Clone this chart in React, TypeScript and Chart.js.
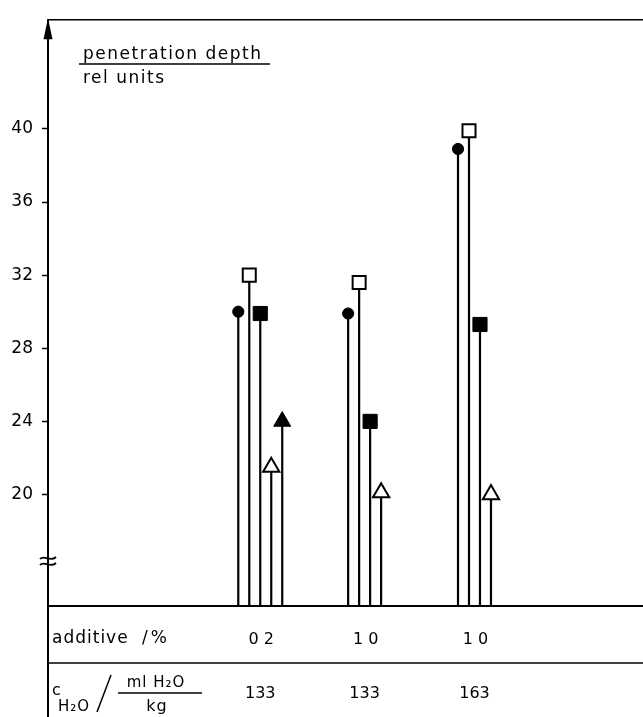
import React, { useEffect, useRef } from "react";
import { Chart, registerables } from "chart.js";

Chart.register(...registerables);

// ---- data ----
const GROUPS = ["A", "B", "C"];
const ADDITIVE_LABELS = ["0 2", "1 0", "1 0"];
const WATER_LABELS = ["133", "133", "163"];
const Y_TICKS = [20, 24, 28, 32, 36, 40];

const FILLED_CIRCLE = [30.0, 29.9, 38.9];
const OPEN_SQUARE = [32.0, 31.6, 39.9];
const FILLED_SQUARE = [29.9, 24.0, 29.3];
const OPEN_TRIANGLE = [21.5, 20.1, 20.0];
const FILLED_TRIANGLE = [24.0, null, null];

// ---- layout constants ----
const W = 643;
const H = 717;
const SERIES_STEP = 0.1;
const X_MIN = -1.732;
const X_MAX = 3.58;
const Y_MIN = 13.9;
const Y_MAX = 46;
const FONT = "'DejaVu Sans', sans-serif";

type SeriesDef = {
  label: string;
  values: (number | null)[];
  style: string;
  filled: boolean;
  radius: number;
};

const SERIES: SeriesDef[] = [
  { label: "filled circle", values: FILLED_CIRCLE, style: "circle", filled: true, radius: 5.6 },
  { label: "open square", values: OPEN_SQUARE, style: "rect", filled: false, radius: 9.2 },
  { label: "filled square", values: FILLED_SQUARE, style: "rect", filled: true, radius: 10 },
  { label: "open triangle", values: OPEN_TRIANGLE, style: "triangle", filled: false, radius: 9.4 },
  { label: "filled triangle", values: FILLED_TRIANGLE, style: "triangle", filled: true, radius: 9.8 },
];

const stemPlugin = {
  id: "stems",
  beforeDatasetsDraw(chart: any) {
    const ctx = chart.ctx;
    const bottom = chart.chartArea.bottom;
    ctx.save();
    ctx.strokeStyle = "#000";
    ctx.lineWidth = 2.2;
    chart.data.datasets.forEach((_: any, i: number) => {
      const meta = chart.getDatasetMeta(i);
      meta.data.forEach((el: any) => {
        ctx.beginPath();
        ctx.moveTo(el.x, el.y);
        ctx.lineTo(el.x, bottom);
        ctx.stroke();
      });
    });
    ctx.restore();
  },
};

const decorPlugin = {
  id: "decor",
  afterDraw(chart: any) {
    const ctx = chart.ctx;
    const { left, top, bottom } = chart.chartArea;
    const xs = chart.scales.x;
    const ax = left;
    ctx.save();
    ctx.strokeStyle = "#000";
    ctx.fillStyle = "#000";

    // vertical axis through the table
    ctx.lineWidth = 2;
    ctx.beginPath();
    ctx.moveTo(ax, top);
    ctx.lineTo(ax, H);
    ctx.stroke();

    // top frame line
    ctx.lineWidth = 1.5;
    ctx.beginPath();
    ctx.moveTo(ax, top + 0.5);
    ctx.lineTo(W, top + 0.5);
    ctx.stroke();

    // arrow head
    ctx.beginPath();
    ctx.moveTo(ax, top - 1);
    ctx.lineTo(ax - 4.5, top + 20);
    ctx.lineTo(ax + 4.5, top + 20);
    ctx.closePath();
    ctx.fill();

    // baseline / table top
    ctx.lineWidth = 2;
    ctx.beginPath();
    ctx.moveTo(ax, bottom);
    ctx.lineTo(W, bottom);
    ctx.stroke();

    // table row separator
    const rowLine = bottom + 57;
    ctx.lineWidth = 1.5;
    ctx.beginPath();
    ctx.moveTo(ax, rowLine);
    ctx.lineTo(W, rowLine);
    ctx.stroke();

    // axis break
    const by = bottom - 45;
    ctx.lineWidth = 1.8;
    [-3, 3].forEach((d) => {
      const y = by + d;
      ctx.beginPath();
      ctx.moveTo(ax - 8, y + 1);
      ctx.bezierCurveTo(ax - 4, y - 4, ax + 2, y + 5, ax + 8, y - 1);
      ctx.stroke();
    });

    // title
    ctx.font = `17px ${FONT}`;
    (ctx as any).letterSpacing = "1.5px";
    ctx.textAlign = "left";
    ctx.textBaseline = "alphabetic";
    ctx.fillText("penetration depth", 83, 59);
    ctx.lineWidth = 1.5;
    ctx.beginPath();
    ctx.moveTo(79, 64);
    ctx.lineTo(270, 64);
    ctx.stroke();
    ctx.fillText("rel units", 83, 83);

    // table row labels
    (ctx as any).letterSpacing = "1px";
    ctx.fillText("additive", 52, 643);
    (ctx as any).letterSpacing = "3px";
    ctx.fillText("/%", 142, 643);
    (ctx as any).letterSpacing = "1px";

    ctx.font = `16px ${FONT}`;
    ctx.fillText("c", 52, 695);
    ctx.font = `15px ${FONT}`;
    ctx.fillText("H\u2082O", 58, 711);
    ctx.lineWidth = 1.5;
    ctx.beginPath();
    ctx.moveTo(97, 712);
    ctx.lineTo(111, 675);
    ctx.stroke();
    ctx.textAlign = "center";
    ctx.font = `15px ${FONT}`;
    ctx.fillText("ml H\u2082O", 156, 687);
    ctx.beginPath();
    ctx.moveTo(118, 693);
    ctx.lineTo(202, 693);
    ctx.stroke();
    ctx.font = `16px ${FONT}`;
    ctx.fillText("kg", 157, 711);

    // group labels, centered under each group's stems
    ctx.font = `16px ${FONT}`;
    (ctx as any).letterSpacing = "0px";
    GROUPS.forEach((_, g) => {
      const px: number[] = [];
      SERIES.forEach((s, si) => {
        if (s.values[g] != null) px.push(xs.getPixelForValue(g + si * SERIES_STEP));
      });
      const cx = px.reduce((a, b) => a + b, 0) / px.length;
      ctx.fillText(ADDITIVE_LABELS[g], cx + 1, 644);
      ctx.fillText(WATER_LABELS[g], cx, 698);
    });

    ctx.restore();
  },
};

export default function App() {
  const ref = useRef<HTMLCanvasElement | null>(null);

  useEffect(() => {
    document.body.style.margin = "0";
    const canvas = ref.current;
    if (!canvas) return;

    const datasets = SERIES.map((s, si) => ({
      label: s.label,
      data: s.values
        .map((v, g) => (v == null ? null : { x: g + si * SERIES_STEP, y: v }))
        .filter((p) => p !== null),
      pointStyle: s.style,
      pointRadius: s.radius,
      pointBackgroundColor: s.filled ? "#000" : "#fff",
      pointBorderColor: "#000",
      pointBorderWidth: s.filled ? 1 : 2,
      showLine: false,
    }));

    const chart = new Chart(canvas, {
      type: "scatter",
      data: { datasets: datasets as any },
      options: {
        animation: false,
        responsive: false,
        devicePixelRatio: 1,
        layout: { padding: { top: 12, bottom: 111, left: 0, right: 0 } },
        plugins: {
          legend: { display: false },
          tooltip: { enabled: false },
        },
        scales: {
          x: { type: "linear", display: false, min: X_MIN, max: X_MAX },
          y: {
            type: "linear",
            min: Y_MIN,
            max: Y_MAX,
            position: "left",
            afterFit: (scale: any) => {
              scale.width = 48;
            },
            afterBuildTicks: (scale: any) => {
              scale.ticks = Y_TICKS.map((v) => ({ value: v }));
            },
            ticks: {
              color: "#000",
              font: { family: FONT, size: 17 },
              padding: 9,
              callback: (v: any) => String(v),
            },
            grid: {
              drawOnChartArea: false,
              drawTicks: true,
              tickLength: 6,
              tickColor: "#000",
              tickWidth: 1.5,
            },
            border: { display: false },
          },
        },
      } as any,
      plugins: [stemPlugin, decorPlugin],
    });

    return () => chart.destroy();
  }, []);

  return (
    <div style={{ width: W, height: H }}>
      <canvas ref={ref} width={W} height={H} style={{ display: "block", width: W, height: H }} />
    </div>
  );
}
